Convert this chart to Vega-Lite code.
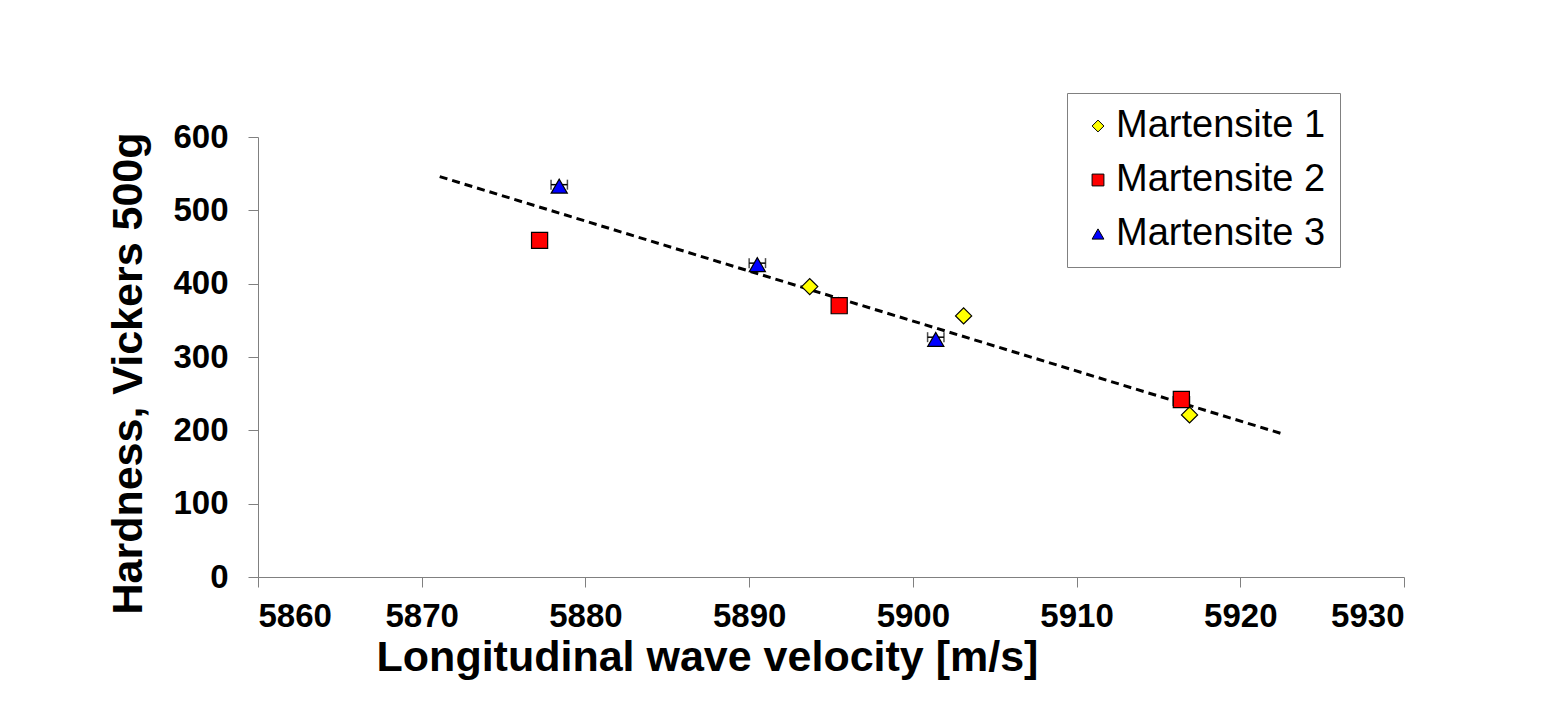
{
  "$schema": "https://vega.github.io/schema/vega-lite/v6.json",
  "autosize": "none",
  "width": 1146,
  "height": 440,
  "padding": {"left": 258, "top": 137, "right": 152, "bottom": 135},
  "background": "white",
  "config": {
    "view": {"stroke": null},
    "font": "Liberation Sans"
  },
  "datasets": {
    "points": [
      {"series": "Martensite 1", "velocity": 5893.7, "hardness": 396},
      {"series": "Martensite 1", "velocity": 5903.1, "hardness": 356},
      {"series": "Martensite 1", "velocity": 5916.9, "hardness": 221},
      {"series": "Martensite 2", "velocity": 5877.2, "hardness": 459},
      {"series": "Martensite 2", "velocity": 5895.5, "hardness": 370},
      {"series": "Martensite 2", "velocity": 5916.4, "hardness": 242},
      {"series": "Martensite 3", "velocity": 5878.4, "hardness": 533},
      {"series": "Martensite 3", "velocity": 5890.5, "hardness": 426},
      {"series": "Martensite 3", "velocity": 5901.4, "hardness": 324}
    ],
    "errors": [
      {"lo": 5877.9, "hi": 5878.9, "hardness": 535},
      {"lo": 5890.0, "hi": 5891.0, "hardness": 428},
      {"lo": 5900.9, "hi": 5901.9, "hardness": 327},
      {"lo": 5915.9, "hi": 5916.9, "hardness": 240}
    ],
    "trend": [
      {"velocity": 5871.1, "hardness": 546},
      {"velocity": 5922.6, "hardness": 195}
    ]
  },
  "layer": [
    {
      "data": {"name": "trend"},
      "mark": {"type": "line", "color": "black", "strokeWidth": 3, "strokeDash": [8, 5]},
      "encoding": {
        "x": {"field": "velocity", "type": "quantitative", "title": "Longitudinal wave velocity [m/s]"},
        "y": {"field": "hardness", "type": "quantitative", "title": "Hardness, Vickers 500g"}
      }
    },
    {
      "data": {"name": "errors"},
      "mark": {"type": "errorbar", "color": "black", "thickness": 1.5, "ticks": {"size": 10, "thickness": 1.5}},
      "encoding": {
        "x": {"field": "lo", "type": "quantitative", "title": "Longitudinal wave velocity [m/s]"},
        "x2": {"field": "hi"},
        "y": {"field": "hardness", "type": "quantitative", "title": "Hardness, Vickers 500g"}
      }
    },
    {
      "data": {"name": "points"},
      "mark": {"type": "point", "filled": true, "stroke": "black", "strokeWidth": 1.2, "opacity": 1, "size": 260},
      "encoding": {
        "x": {
          "field": "velocity", "type": "quantitative",
          "title": "Longitudinal wave velocity [m/s]",
          "scale": {"domain": [5860, 5930], "nice": false, "zero": false},
          "axis": {
            "values": [5860, 5870, 5880, 5890, 5900, 5910, 5920, 5930],
            "format": "d",
            "grid": false, "domainColor": "#808080", "tickColor": "#808080",
            "tickSize": 10, "labelPadding": 13, "labelFont": "Liberation Sans",
            "labelFontSize": 33, "labelFontWeight": "bold", "labelColor": "black",
            "title": "Longitudinal wave velocity [m/s]", "titleFont": "Liberation Sans",
            "titleFontSize": 43, "titleFontWeight": "bold", "titleColor": "black",
            "titlePadding": 3, "titleX": 449, "titleAnchor": null, "titleAlign": "center"
          }
        },
        "y": {
          "field": "hardness", "type": "quantitative",
          "title": "Hardness, Vickers 500g",
          "scale": {"domain": [0, 600], "nice": false},
          "axis": {
            "values": [0, 100, 200, 300, 400, 500, 600],
            "grid": false, "domainColor": "#808080", "tickColor": "#808080",
            "tickSize": 10, "labelPadding": 20, "labelFont": "Liberation Sans",
            "labelFontSize": 33, "labelFontWeight": "bold", "labelColor": "black",
            "title": "Hardness, Vickers 500g", "titleFont": "Liberation Sans",
            "titleFontSize": 43, "titleFontWeight": "bold", "titleColor": "black",
            "titlePadding": 22, "titleY": 236, "titleAlign": "center"
          }
        },
        "color": {
          "field": "series", "type": "nominal",
          "scale": {"domain": ["Martensite 1", "Martensite 2", "Martensite 3"], "range": ["#ffff00", "#ff0000", "#0000ff"]},
          "legend": {
            "title": null, "orient": "none", "legendX": 809, "legendY": -44,
            "strokeColor": "#808080", "padding": 14, "fillColor": "white",
            "labelFont": "Liberation Sans", "labelFontSize": 38, "labelColor": "black",
            "labelLimit": 0,
            "symbolSize": 140, "symbolStrokeColor": "black", "symbolStrokeWidth": 1,
            "rowPadding": 16, "labelOffset": -1, "symbolOffset": -2
          }
        },
        "shape": {
          "field": "series", "type": "nominal",
          "scale": {"domain": ["Martensite 1", "Martensite 2", "Martensite 3"], "range": ["diamond", "square", "triangle-up"]}
        }
      }
    }
  ]
}
